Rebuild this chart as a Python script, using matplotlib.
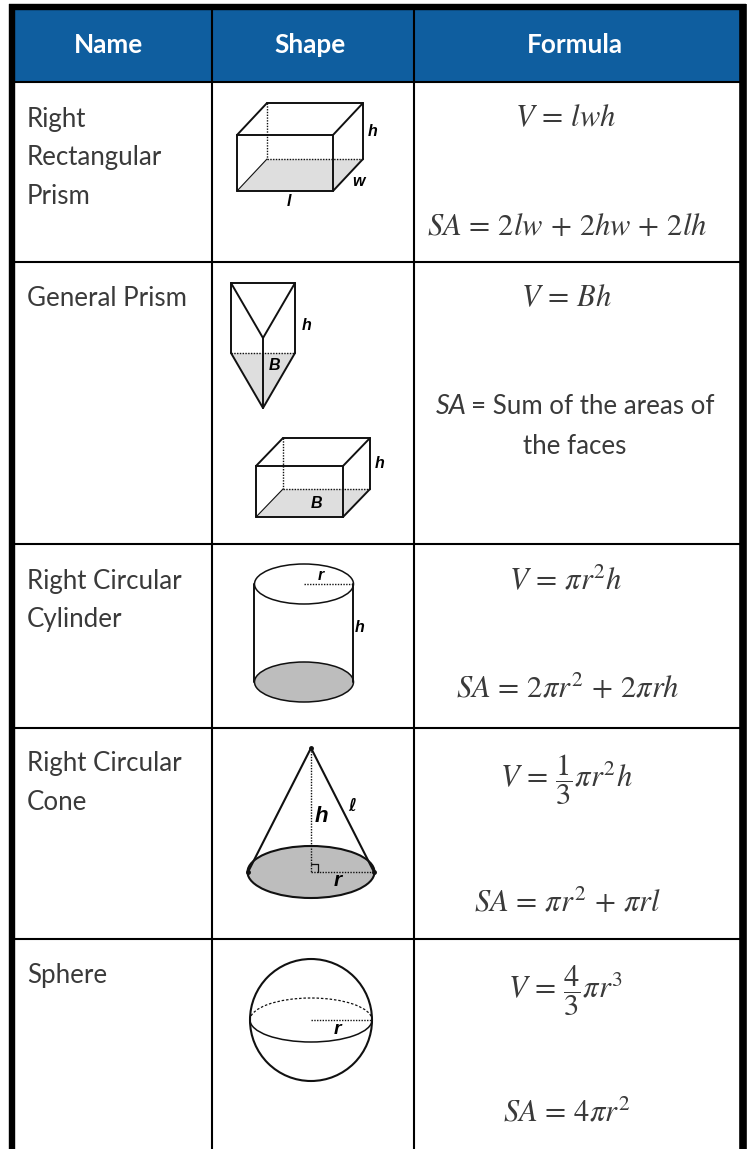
import matplotlib
matplotlib.use('Agg')
import matplotlib.pyplot as plt
from matplotlib.patches import Ellipse, Polygon, Rectangle, Arc

plt.rcParams['font.family'] = ['Lato', 'DejaVu Sans']
plt.rcParams['mathtext.fontset'] = 'stix'

headers = ['Name', 'Shape', 'Formula']
names = [['Right', 'Rectangular', 'Prism'], ['General Prism'],
         ['Right Circular', 'Cylinder'], ['Right Circular', 'Cone'], ['Sphere']]
volumes = [r'$V\,=\,lwh$', r'$V\,=\,Bh$', r'$V\,=\,\pi r^2h$',
           r'$V\,=\,\dfrac{1}{3}\pi r^2h$', r'$V\,=\,\dfrac{4}{3}\pi r^3$']
areas = [r'$SA\,=\,2lw\,+\,2hw\,+\,2lh$', None, r'$SA\,=\,2\pi r^2\,+\,2\pi rh$',
         r'$SA\,=\,\pi r^2\,+\,\pi rl$', r'$SA\,=\,4\pi r^2$']

col_lines = [212, 414]
row_lines = [82, 262, 544, 728, 939]
name_y = [119, 299, 581, 764, 975]
vol_y = [117, 297, 579, 780, 991]
area_y = [226, None, 688, 902, 1112]
vol_x = [566, 566, 566, 566, 566]
area_x = [567, None, 568, 567, 567]

DARK = '#3a3a3a'
GREY = '#dedede'
BLUE = '#0f5e9f'

fig = plt.figure(figsize=(7.49, 11.49), dpi=100)
ax = fig.add_axes([0, 0, 1, 1])
ax.set_xlim(0, 749)
ax.set_ylim(1149, 0)
ax.axis('off')


def seg(x0, y0, x1, y1, ls='-', lw=1.4):
    ax.plot([x0, x1], [y0, y1], color='#111111', lw=lw, ls=ls, solid_capstyle='round', zorder=3)


def lab(x, y, s, size=11.5):
    ax.text(x, y, s, family='Liberation Sans', weight='bold', style='italic', fontsize=size,
            ha='center', va='center', color='black', zorder=4)


def box(x0, y0, x1, y1, dx, dy):
    # front rectangle x0..x1, y0..y1, depth goes up-right
    ax.add_patch(Polygon([(x0, y1), (x1, y1), (x1 + dx, y1 - dy), (x0 + dx, y1 - dy)],
                         fc=GREY, ec='none', zorder=2))
    seg(x0, y0, x1, y0)
    seg(x0, y1, x1, y1)
    seg(x0, y0, x0, y1)
    seg(x1, y0, x1, y1)
    seg(x0, y0, x0 + dx, y0 - dy)
    seg(x1, y0, x1 + dx, y0 - dy)
    seg(x1, y1, x1 + dx, y1 - dy)
    seg(x0 + dx, y0 - dy, x1 + dx, y0 - dy)
    seg(x1 + dx, y0 - dy, x1 + dx, y1 - dy)
    seg(x0 + dx, y0 - dy, x0 + dx, y1 - dy, ls=(0, (1, 1)), lw=1)
    seg(x0 + dx, y1 - dy, x1 + dx, y1 - dy, ls=(0, (1, 1)), lw=1)
    seg(x0, y1, x0 + dx, y1 - dy, lw=0.8)


# cell backgrounds, header band and outer frame
ax.add_patch(Rectangle((12, 7), 731, 1150, fc='white', ec='none', zorder=0))
ax.add_patch(Rectangle((12, 7), 731, 75, fc=BLUE, ec='none', zorder=1))
ax.plot([12, 12], [4, 1149], color='black', lw=4.6, solid_capstyle='butt', zorder=5)
ax.plot([743, 743], [4, 1149], color='black', lw=5.5, solid_capstyle='butt', zorder=5)
ax.plot([9, 746], [7, 7], color='black', lw=4.6, solid_capstyle='butt', zorder=5)
for y in row_lines:
    ax.plot([12, 743], [y, y], color='black', lw=1.5, zorder=5)
for x in col_lines:
    ax.plot([x, x], [7, 1149], color='black', lw=1.5, zorder=5)

# header
for x, t in zip([109, 310, 575], headers):
    ax.text(x, 45, t, color='white', weight='bold', fontsize=18.8, ha='center', va='center', zorder=6)

# first column
for lines, y in zip(names, name_y):
    for i, t in enumerate(lines):
        ax.text(27, y + i * 39, t, color=DARK, fontsize=18.6, ha='left', va='center')

# formulas
for s, x, y in zip(volumes, vol_x, vol_y):
    ax.text(x, y, s, color=DARK, fontsize=22, ha='center', va='center')
for s, x, y in zip(areas, area_x, area_y):
    if s is not None:
        ax.text(x, y, s, color=DARK, fontsize=22, ha='center', va='center')
ax.text(436, 407, 'SA', color=DARK, fontsize=19.5, style='italic', ha='left', va='center')
ax.text(471, 407, '= Sum of the areas of', color=DARK, fontsize=18.6, ha='left', va='center')
ax.text(575, 446, 'the faces', color=DARK, fontsize=18.6, ha='center', va='center')

# rectangular prism
box(237, 135, 333, 191, 30, 32)
lab(373, 132, 'h')
lab(358, 182, 'w')
lab(289, 202, 'l')

# general prism, triangular
ax.add_patch(Polygon([(231, 353), (295, 353), (263, 408)], fc=GREY, ec='none', zorder=2))
seg(231, 283, 295, 283)
seg(231, 283, 231, 353)
seg(295, 283, 295, 353)
seg(231, 283, 263, 338)
seg(295, 283, 263, 338)
seg(263, 338, 263, 408)
seg(231, 353, 263, 408)
seg(295, 353, 263, 408)
seg(231, 353, 295, 353, ls=(0, (1, 1)), lw=1)
lab(307, 326, 'h')
lab(274, 365, 'B')

# general prism, box
box(256, 466, 343, 517, 27, 28)
lab(380, 463, 'h')
lab(316, 503, 'B')

# cylinder
ax.add_patch(Ellipse((304, 682), 99, 40, fc='#bdbdbd', ec='#111111', lw=1.1, zorder=2))
ax.add_patch(Ellipse((304, 584), 99, 40, fc='white', ec='#111111', lw=1.1, zorder=2))
seg(254, 584, 254, 682)
seg(353, 584, 353, 682)
seg(304, 584, 353, 584, ls=(0, (1, 1)), lw=1)
lab(321, 575, 'r')
lab(360, 628, 'h')

# cone
ax.add_patch(Ellipse((311, 872), 127, 52, fc='#bdbdbd', ec='#111111', lw=1.5, zorder=2))
seg(248, 872, 311, 748, lw=1.5)
seg(374, 872, 311, 748, lw=1.5)
seg(311, 748, 311, 872, ls=(0, (1, 1)), lw=1)
seg(311, 872, 374, 872, ls=(0, (1, 1)), lw=1)
seg(311, 864, 318, 864, lw=0.9)
seg(318, 864, 318, 872, lw=0.9)
ax.plot([248, 311, 374], [872, 748, 872], 'o', color='#111111', ms=2.5, zorder=4)
lab(321, 817, 'h', size=16)
lab(338, 881, 'r', size=15)
ax.text(352, 806, '\u2113', family='DejaVu Sans', weight='bold', style='italic', fontsize=12,
        ha='center', va='center', color='black', zorder=4)

# sphere
ax.add_patch(Ellipse((311, 1020), 122, 122, fc='white', ec='#111111', lw=1.5, zorder=2))
ax.add_patch(Arc((311, 1020), 122, 44, theta1=0, theta2=180, ec='#111111', lw=1.1, zorder=3))
ax.add_patch(Arc((311, 1020), 122, 44, theta1=180, theta2=360, ec='#111111', lw=0.9, ls=(0, (2, 1.5)), zorder=3))
seg(311, 1020, 372, 1020, ls=(0, (1, 1)), lw=1)
lab(337, 1029, 'r', size=14)

fig.savefig('out.png', dpi=100)
